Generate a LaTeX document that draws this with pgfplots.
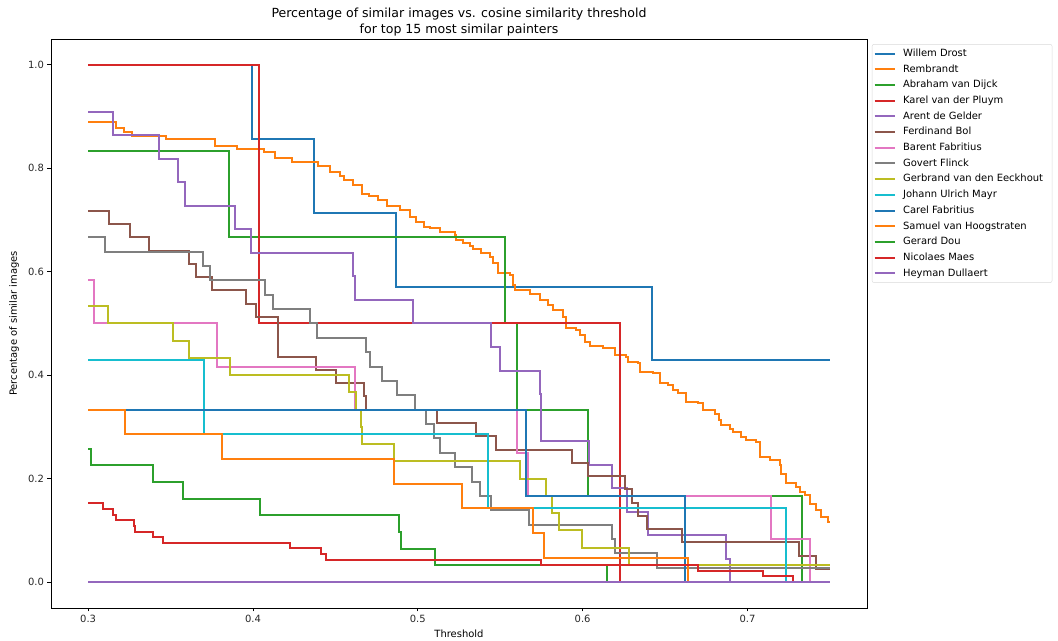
\documentclass[border=0pt]{standalone}
\usepackage{fontspec}
\setmainfont{DejaVu Sans}
\usepackage{pgfplots}
\pgfplotsset{compat=1.18}
\definecolor{c0}{HTML}{1F77B4}
\definecolor{c1}{HTML}{FF7F0E}
\definecolor{c2}{HTML}{2CA02C}
\definecolor{c3}{HTML}{D62728}
\definecolor{c4}{HTML}{9467BD}
\definecolor{c5}{HTML}{8C564B}
\definecolor{c6}{HTML}{E377C2}
\definecolor{c7}{HTML}{7F7F7F}
\definecolor{c8}{HTML}{BCBD22}
\definecolor{c9}{HTML}{17BECF}
\begin{document}
\begin{tikzpicture}
\useasboundingbox (-51bp,-33bp) rectangle (1007bp,608bp);
\begin{axis}[
  at={(0bp,0bp)}, anchor=south west,
  scale only axis, width=816bp, height=569bp,
  xmin=0.2775, xmax=0.7725, ymin=-0.05, ymax=1.05,
  xtick={0.3,0.4,0.5,0.6,0.7},
  ytick={0,0.2,0.4,0.6,0.8,1.0},
  xticklabel style={/pgf/number format/fixed,/pgf/number format/fixed zerofill,/pgf/number format/precision=1},
  yticklabel style={/pgf/number format/fixed,/pgf/number format/fixed zerofill,/pgf/number format/precision=1},
  /pgf/number format/assume math mode=true,
  tick label style={font=\fontsize{10}{12}\selectfont, text=black!85},
  tick align=outside, major tick length=3.5bp,
  xtick pos=bottom, ytick pos=left,
  every tick/.style={black, line width=0.8bp},
  axis line style={black, line width=0.8bp},
  xlabel={Threshold},
  ylabel={Percentage of similar images},
  xlabel style={at={(axis description cs:0.5,-0.0457)}, anchor=center, font=\fontsize{10}{12}\selectfont},
  ylabel style={at={(axis description cs:-0.0453,0.5)}, anchor=center, rotate=0, font=\fontsize{10}{12}\selectfont},
  title={Percentage of similar images vs. cosine similarity threshold\\for top 15 most similar painters},
  title style={at={(axis description cs:0.5,1.0195)}, anchor=center, align=center, font=\fontsize{12.6}{15.5}\selectfont},
  legend style={at={(1.006,0.991)}, anchor=north west,
    draw=black!15, rounded corners=2bp, fill=white,
    inner xsep=1.5bp, inner ysep=3bp,
    font=\fontsize{10}{12}\selectfont,
    nodes={inner xsep=7.5bp, inner ysep=1.5bp, text height=7.5bp, text depth=2bp},
    row sep=3.2bp},
  legend cell align=left,
  legend image code/.code={\draw[#1] (0bp,0bp) -- (20bp,0bp);},
  every axis plot/.append style={line width=2bp, const plot, line join=miter},
]
% Willem Drost
\addplot[c0] coordinates {(0.3,1.0)(0.3995,0.8571)(0.4369,0.7143)(0.4868,0.5714)(0.6419,0.4286)(0.75,0.4286)};
\addlegendentry{Willem Drost}
% Rembrandt
\addplot[c1] coordinates {(0.3,0.8897)(0.3169,0.877)(0.3218,0.871)(0.3265,0.863)(0.3471,0.857)(0.3772,0.844)(0.3904,0.838)(0.407,0.831)(0.4132,0.8195)(0.4237,0.812)(0.4395,0.805)(0.4466,0.792)(0.4526,0.786)(0.4553,0.778)(0.4607,0.767)(0.4662,0.7505)(0.4704,0.7466)(0.476,0.739)(0.4813,0.727)(0.4894,0.7195)(0.495,0.7066)(0.4991,0.697)(0.504,0.687)(0.5072,0.684)(0.5132,0.676)(0.5223,0.671)(0.5234,0.6615)(0.5274,0.656)(0.5315,0.650)(0.5335,0.6435)(0.5386,0.636)(0.5436,0.629)(0.5456,0.6165)(0.5486,0.597)(0.5557,0.594)(0.5577,0.5745)(0.5588,0.565)(0.5679,0.557)(0.5739,0.5455)(0.5790,0.536)(0.5820,0.526)(0.5881,0.513)(0.5901,0.4907)(0.5962,0.4874)(0.5982,0.478)(0.6012,0.465)(0.6042,0.4565)(0.6123,0.452)(0.6194,0.439)(0.6265,0.436)(0.6275,0.426)(0.6335,0.423)(0.6346,0.4056)(0.6426,0.4037)(0.6467,0.3855)(0.6517,0.381)(0.6548,0.371)(0.6578,0.365)(0.6629,0.3488)(0.6699,0.3456)(0.6730,0.333)(0.6800,0.326)(0.6830,0.313)(0.6841,0.304)(0.6891,0.297)(0.6911,0.2907)(0.6962,0.281)(0.6993,0.2747)(0.7053,0.2714)(0.7073,0.242)(0.7134,0.236)(0.7195,0.226)(0.7205,0.210)(0.7235,0.191)(0.7296,0.184)(0.7316,0.1747)(0.7346,0.168)(0.7377,0.152)(0.7417,0.139)(0.7448,0.126)(0.7490,0.117)(0.75,0.117)};
\addlegendentry{Rembrandt}
% Abraham van Dijck
\addplot[c2] coordinates {(0.3,0.8333)(0.3853,0.6667)(0.5531,0.5)(0.5602,0.3333)(0.6032,0.1667)(0.733,0)(0.75,0)};
\addlegendentry{Abraham van Dijck}
% Karel van der Pluym
\addplot[c3] coordinates {(0.3,1.0)(0.4035,0.5)(0.6224,0)(0.75,0)};
\addlegendentry{Karel van der Pluym}
% Arent de Gelder
\addplot[c4] coordinates {(0.3,0.9091)(0.3154,0.8636)(0.3429,0.8182)(0.3545,0.7727)(0.3586,0.7273)(0.389,0.6818)(0.3987,0.6364)(0.4607,0.5909)(0.4622,0.5455)(0.4971,0.5)(0.5442,0.4545)(0.5497,0.4091)(0.5739,0.3636)(0.5749,0.2727)(0.6038,0.2273)(0.6178,0.1818)(0.6271,0.1364)(0.6394,0.0909)(0.6871,0.0455)(0.6896,0)(0.75,0)};
\addlegendentry{Arent de Gelder}
% Ferdinand Bol
\addplot[c5] coordinates {(0.3,0.7179)(0.3127,0.6923)(0.3255,0.6667)(0.337,0.641)(0.3613,0.6154)(0.3657,0.5897)(0.3754,0.5641)(0.3955,0.5385)(0.4017,0.5128)(0.4152,0.4359)(0.4385,0.4103)(0.4502,0.3846)(0.4674,0.359)(0.4688,0.3333)(0.5117,0.3077)(0.5355,0.2821)(0.5477,0.2564)(0.5937,0.2308)(0.6032,0.2051)(0.6255,0.1795)(0.6301,0.1538)(0.6335,0.1282)(0.639,0.1026)(0.6602,0.0769)(0.731,0.0513)(0.7417,0.0256)(0.75,0.0256)};
\addlegendentry{Ferdinand Bol}
% Barent Fabritius
\addplot[c6] coordinates {(0.3,0.5833)(0.3036,0.5)(0.3785,0.4167)(0.4617,0.3333)(0.5602,0.25)(0.5668,0.1667)(0.7142,0.0833)(0.7381,0)(0.75,0)};
\addlegendentry{Barent Fabritius}
% Govert Flinck
\addplot[c7] coordinates {(0.3,0.6667)(0.3101,0.6389)(0.3697,0.6111)(0.3738,0.5833)(0.4072,0.5556)(0.4122,0.5278)(0.4349,0.5)(0.4389,0.4722)(0.4688,0.4444)(0.4713,0.4167)(0.478,0.3889)(0.4874,0.3611)(0.4981,0.3333)(0.5052,0.3056)(0.5098,0.2778)(0.5133,0.25)(0.5224,0.2222)(0.5331,0.1944)(0.5375,0.1667)(0.5446,0.1389)(0.5672,0.1111)(0.6178,0.0833)(0.6194,0.0556)(0.6453,0.0278)(0.75,0.0278)};
\addlegendentry{Govert Flinck}
% Gerbrand van den Eeckhout
\addplot[c8] coordinates {(0.3,0.5333)(0.3121,0.5)(0.3515,0.4667)(0.3611,0.4333)(0.3859,0.4)(0.4581,0.3667)(0.4623,0.3333)(0.4654,0.3)(0.4664,0.2667)(0.4854,0.2333)(0.5622,0.2)(0.578,0.1667)(0.5816,0.1333)(0.5856,0.1)(0.5998,0.0667)(0.6279,0.0333)(0.75,0.0333)};
\addlegendentry{Gerbrand van den Eeckhout}
% Johann Ulrich Mayr
\addplot[c9] coordinates {(0.3,0.4286)(0.3702,0.2857)(0.5426,0.1429)(0.7235,0)(0.75,0)};
\addlegendentry{Johann Ulrich Mayr}
% Carel Fabritius
\addplot[c0] coordinates {(0.3,0.3333)(0.5659,0.1667)(0.662,0)(0.75,0)};
\addlegendentry{Carel Fabritius}
% Samuel van Hoogstraten
\addplot[c1] coordinates {(0.3,0.3333)(0.3223,0.2857)(0.3811,0.2381)(0.4858,0.1905)(0.5266,0.1429)(0.5699,0.0952)(0.5768,0.0476)(0.6638,0)(0.75,0)};
\addlegendentry{Samuel van Hoogstraten}
% Gerard Dou
\addplot[c2] coordinates {(0.3,0.2581)(0.302,0.2258)(0.3394,0.1935)(0.3576,0.1613)(0.4041,0.129)(0.4886,0.0968)(0.49,0.0645)(0.5103,0.0323)(0.6147,0)(0.75,0)};
\addlegendentry{Gerard Dou}
% Nicolaes Maes
\addplot[c3] coordinates {(0.3,0.1522)(0.3091,0.1413)(0.3152,0.1304)(0.3172,0.1196)(0.3279,0.1087)(0.3287,0.0978)(0.3394,0.087)(0.3455,0.0761)(0.4227,0.0652)(0.4415,0.0543)(0.4441,0.0435)(0.575,0.0326)(0.67,0.0217)(0.7093,0.0109)(0.7275,0)(0.75,0)};
\addlegendentry{Nicolaes Maes}
% Heyman Dullaert
\addplot[c4] coordinates {(0.3,0)(0.75,0)};
\addlegendentry{Heyman Dullaert}
\end{axis}
\end{tikzpicture}
\end{document}
